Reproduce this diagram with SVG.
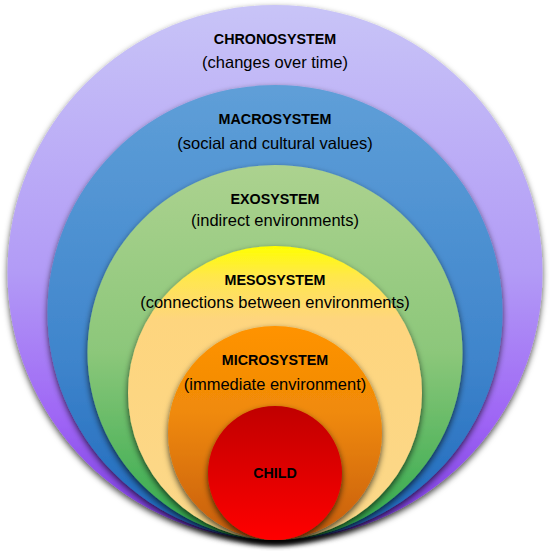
<svg xmlns="http://www.w3.org/2000/svg" width="550" height="554" viewBox="0 0 550 554">
<style>
.t{font-family:"Liberation Sans",Arial,sans-serif;font-weight:bold;font-size:14.3px;fill:#000;text-anchor:middle}
.d{font-family:"Liberation Sans",Arial,sans-serif;font-size:16.5px;fill:#000;text-anchor:middle}
.c{filter:url(#sh)}
</style>
<defs>
<filter id="sh" x="-10%" y="-10%" width="120%" height="125%">
<feDropShadow dx="0" dy="3" stdDeviation="3" flood-color="#000" flood-opacity="0.7"/>
</filter>
<linearGradient id="gP" x1="0" y1="0" x2="0" y2="1">
<stop offset="0" stop-color="#c8c4f7"/>
<stop offset="0.5" stop-color="#b29bf6"/>
<stop offset="0.78" stop-color="#9e64f5"/>
<stop offset="1" stop-color="#7636dc"/>
</linearGradient>
<linearGradient id="gB" x1="0" y1="0" x2="0" y2="1">
<stop offset="0" stop-color="#5f9fd8"/>
<stop offset="0.6" stop-color="#3f85cc"/>
<stop offset="1" stop-color="#1d68bb"/>
</linearGradient>
<linearGradient id="gG" x1="0" y1="0" x2="0" y2="1">
<stop offset="0" stop-color="#acd28f"/>
<stop offset="0.5" stop-color="#8cc77a"/>
<stop offset="1" stop-color="#2ca84a"/>
</linearGradient>
<linearGradient id="gY" x1="0" y1="0" x2="0" y2="1">
<stop offset="0" stop-color="#ffff00"/>
<stop offset="0.1" stop-color="#ffe84a"/>
<stop offset="0.25" stop-color="#fed57e"/>
<stop offset="1" stop-color="#fbd88a"/>
</linearGradient>
<linearGradient id="gO" x1="0" y1="0" x2="0" y2="1">
<stop offset="0" stop-color="#ff9300"/>
<stop offset="0.4" stop-color="#f08a08"/>
<stop offset="1" stop-color="#c65c12"/>
</linearGradient>
<linearGradient id="gR" x1="0" y1="0" x2="0" y2="1">
<stop offset="0" stop-color="#c00000"/>
<stop offset="1" stop-color="#ff0000"/>
</linearGradient>
</defs>
<rect width="550" height="554" fill="#fff"/>
<g id="chronosystem">
<circle class="c" cx="275" cy="272.5" r="267.5" fill="url(#gP)"/>
<text class="t" x="275" y="43.5">CHRONOSYSTEM</text>
<text class="d" x="275" y="67.5">(changes over time)</text>
</g>
<g id="macrosystem">
<circle class="c" cx="275" cy="312.5" r="227.5" fill="url(#gB)"/>
<text class="t" x="275" y="123.5">MACROSYSTEM</text>
<text class="d" x="275" y="148.5">(social and cultural values)</text>
</g>
<g id="exosystem">
<circle class="c" cx="275" cy="352.5" r="187.5" fill="url(#gG)"/>
<text class="t" x="275" y="203.5">EXOSYSTEM</text>
<text class="d" x="275" y="225.5">(indirect environments)</text>
</g>
<g id="mesosystem">
<circle class="c" cx="275" cy="393" r="147" fill="url(#gY)"/>
<text class="t" x="275" y="284.5">MESOSYSTEM</text>
<text class="d" x="275" y="307.5">(connections between environments)</text>
</g>
<g id="microsystem">
<circle class="c" cx="275" cy="433" r="107" fill="url(#gO)"/>
<text class="t" x="275" y="365">MICROSYSTEM</text>
<text class="d" x="275" y="390">(immediate environment)</text>
</g>
<g id="child">
<circle class="c" cx="275" cy="473" r="67" fill="url(#gR)"/>
<text class="t" x="275" y="478">CHILD</text>
</g>
<g id="connectors"/>
</svg>
